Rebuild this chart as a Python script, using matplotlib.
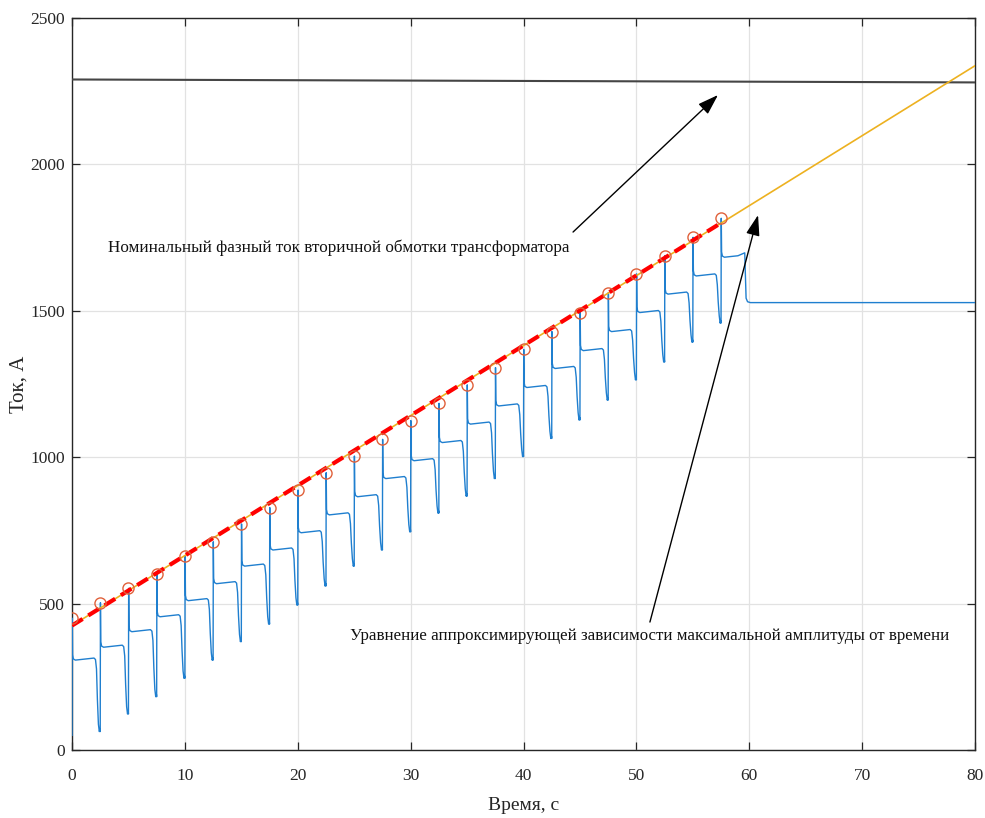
import numpy as np
import matplotlib
matplotlib.use('Agg')
import matplotlib.pyplot as plt

# -- данные --
step_t = [0, 2.5, 5, 7.5, 10, 12.5, 15, 17.5, 20, 22.5, 25, 27.5,
          30, 32.5, 35, 37.5, 40, 42.5, 45, 47.5, 50, 52.5, 55, 57.5]
peak_i = [450, 503, 552, 601, 663, 711, 772, 828, 888, 947, 1004, 1061,
          1125, 1184, 1247, 1306, 1368, 1429, 1494, 1562, 1626, 1688, 1751, 1816]
plateau_i = [307, 351, 404, 455, 510, 568, 628, 683, 742, 803, 865, 927,
             988, 1050, 1113, 1175, 1238, 1303, 1364, 1429, 1494, 1557, 1619, 1683]
dip_i = [63, 123, 182, 245, 307, 370, 430, 495, 560, 628, 683, 745,
         809, 867, 927, 1002, 1064, 1127, 1195, 1264, 1325, 1393, 1458]
start_i = 50
end_rise_i = 1698
final_i = 1528
t_end = 80

fit_t = [0, 57.5]
fit_i = [425, 1800]
trend_t = [0, 80]
trend_i = [425, 2337]
nom_t = [0, 80]
nom_i = [2290, 2280]

x_ticks = [0, 10, 20, 30, 40, 50, 60, 70, 80]
y_ticks = [0, 500, 1000, 1500, 2000, 2500]

# -- построение формы сигнала по опорным точкам --
wt, wi = [], []
prev = start_i
for k, t0 in enumerate(step_t):
    pk, pl = peak_i[k], plateau_i[k]
    wt += [t0, t0 + 0.02, t0 + 0.05, t0 + 0.12, t0 + 0.3]
    wi += [prev, pk, pl + 18, pl + 4, pl]
    if k < len(dip_i):
        d = dip_i[k]
        wt += [t0 + 1.95, t0 + 2.08, t0 + 2.17, t0 + 2.25, t0 + 2.34, t0 + 2.42, t0 + 2.48]
        wi += [pl + 7, pl + 2, pl - 30, pl - 0.55 * (pl - d), d + 25, d, d + 8]
        prev = d
    else:
        wt += [t0 + 1.5, t0 + 2.1, t0 + 2.15, t0 + 2.22, t0 + 2.35, t0 + 2.6, t_end]
        wi += [pl + 5, end_rise_i, end_rise_i - 60, final_i + 15, final_i + 3, final_i, final_i]

# -- фигура --
plt.rcParams['font.family'] = ['Liberation Serif', 'DejaVu Serif']
fig = plt.figure(figsize=(9.85, 8.18), dpi=100)
ax = fig.add_axes([72 / 985, 1 - 750 / 818, 903 / 985, 732 / 818])

ax.plot(nom_t, nom_i, color='#454545', lw=1.5, zorder=3)
ax.plot(wt, wi, color='#1f7fcf', lw=1.0, zorder=3)
ax.plot(trend_t, trend_i, color='#EDB120', lw=1.2, zorder=4)
ax.plot(fit_t, fit_i, color='#FF0000', lw=3, ls=(0, (3, 1.6)), zorder=5)
ax.plot(step_t, peak_i, ls='none', marker='o', ms=8, mfc='none',
        mec='#E0603A', mew=1.0, zorder=6)

ax.set_xlim(0, 80)
ax.set_ylim(0, 2500)
ax.set_xticks(x_ticks)
ax.set_yticks(y_ticks)
ax.grid(True, color='#e2e2e2', lw=0.9)
ax.set_axisbelow(True)
ax.tick_params(direction='in', length=6, width=0.9, top=True, right=True,
               labelsize=12.5, colors='#262626')
ax.tick_params(axis='x', pad=13)
ax.tick_params(axis='y', pad=5)
for s in ax.spines.values():
    s.set_color('#262626')
    s.set_linewidth(1.0)

ax.set_xlabel('Время, с', fontsize=14, color='#262626', labelpad=9)
ax.set_ylabel('Ток, А', fontsize=15, color='#262626', labelpad=1)

ax.text(3.19, 1714, 'Номинальный фазный ток вторичной обмотки трансформатора',
        fontsize=12.3, ha='left', va='center', color='#111111')
ax.text(24.6, 389, 'Уравнение аппроксимирующей зависимости максимальной амплитуды от времени',
        fontsize=12.2, ha='left', va='center', color='#111111')

arrow = dict(arrowstyle='-|>,head_length=0.9,head_width=0.3', color='black', lw=1.0,
             shrinkA=0, shrinkB=0, mutation_scale=14)
ax.annotate('', xy=(57.23, 2237), xytext=(44.39, 1769), arrowprops=arrow, zorder=7)
ax.annotate('', xy=(60.78, 1827), xytext=(51.2, 437), arrowprops=arrow, zorder=7)

fig.savefig('out.png', dpi=100)
